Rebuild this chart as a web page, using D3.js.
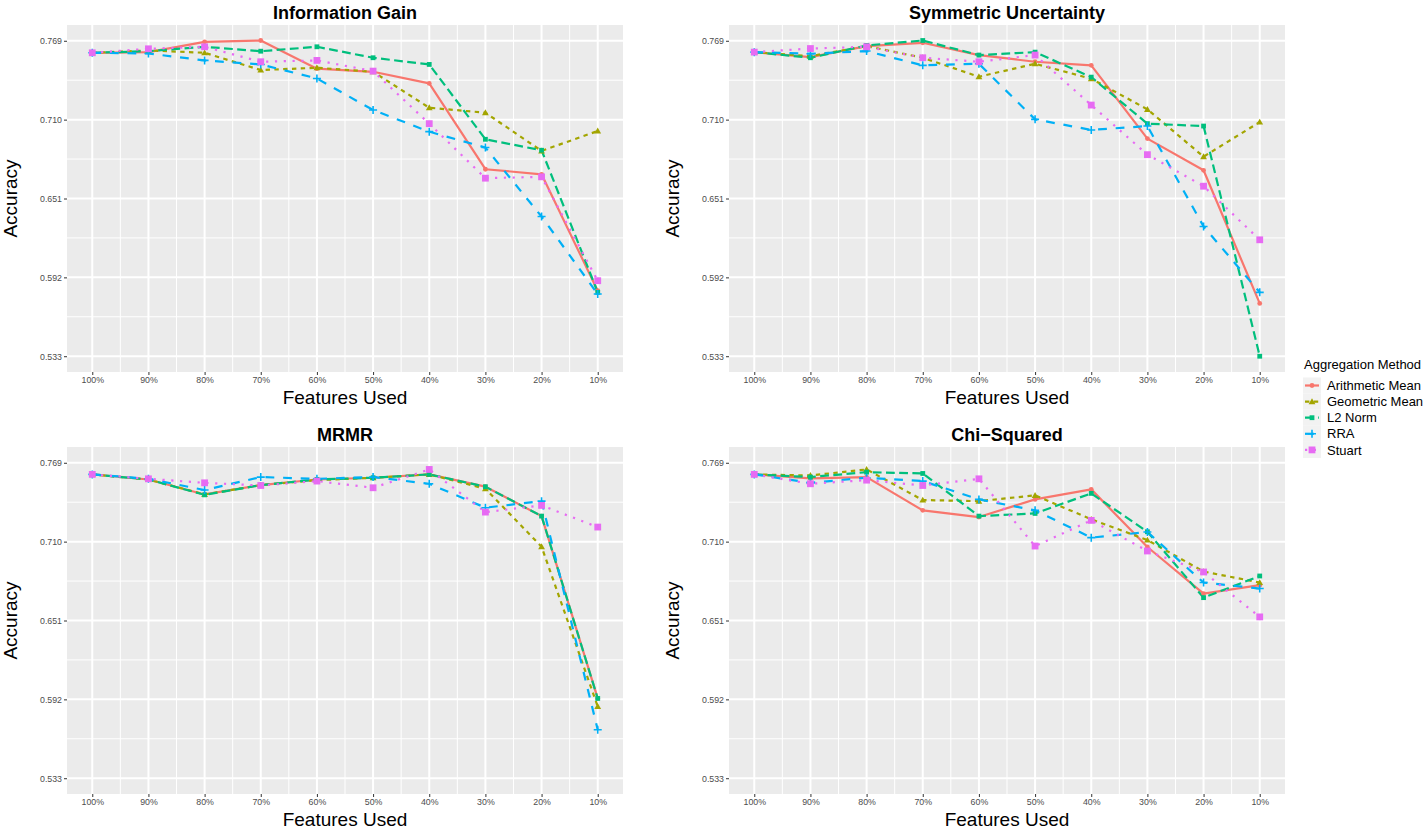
<!DOCTYPE html>
<html><head><meta charset="utf-8">
<script src="https://cdn.jsdelivr.net/npm/d3@7/dist/d3.min.js"></script>
<style>
body{margin:0;background:#fff;}
svg{display:block;font-family:"Liberation Sans",Arial,Helvetica,sans-serif;}
</style>
</head><body>
<svg id="chart" width="1423" height="837"></svg>
<script>
// ---------- data ----------
const featureLabels = ["100%","90%","80%","70%","60%","50%","40%","30%","20%","10%"];
const methods = ["Arithmetic Mean","Geometric Mean","L2 Norm","RRA","Stuart"];
const methodColors = ["#F8766D","#A3A500","#00BF7D","#00B0F6","#E76BF3"];
const yTickValues = [0.533,0.592,0.651,0.710,0.769];
const panelTitles = ["Information Gain","Symmetric Uncertainty","MRMR","Chi\u2212Squared"];

// Information Gain
const igArithmetic = [0.7600,0.7605,0.7682,0.7692,0.7481,0.7458,0.7371,0.6729,0.6691,0.5820];
const igGeometric  = [0.7600,0.7618,0.7600,0.7471,0.7488,0.7458,0.7189,0.7152,0.6866,0.7015];
const igL2         = [0.7600,0.7612,0.7645,0.7612,0.7645,0.7563,0.7513,0.6953,0.6871,0.5808];
const igRRA        = [0.7600,0.7595,0.7543,0.7513,0.7408,0.7172,0.7010,0.6891,0.6375,0.5795];
const igStuart     = [0.7600,0.7630,0.7645,0.7533,0.7543,0.7463,0.7070,0.6662,0.6672,0.5895];

// Symmetric Uncertainty
const suArithmetic = [0.7605,0.7568,0.7650,0.7675,0.7583,0.7533,0.7506,0.6958,0.6721,0.5725];
const suGeometric  = [0.7605,0.7575,0.7650,0.7563,0.7421,0.7518,0.7406,0.7177,0.6823,0.7082];
const suL2         = [0.7605,0.7563,0.7655,0.7692,0.7583,0.7605,0.7418,0.7070,0.7052,0.5330];
const suRRA        = [0.7605,0.7593,0.7613,0.7506,0.7518,0.7102,0.7023,0.7052,0.6301,0.5808];
const suStuart     = [0.7605,0.7632,0.7645,0.7563,0.7533,0.7583,0.7209,0.6838,0.6602,0.6201];

// MRMR
const mrArithmetic = [0.7603,0.7565,0.7453,0.7523,0.7565,0.7578,0.7603,0.7511,0.7291,0.5927];
const mrGeometric  = [0.7603,0.7565,0.7453,0.7523,0.7560,0.7578,0.7603,0.7496,0.7062,0.5867];
const mrL2         = [0.7603,0.7565,0.7450,0.7523,0.7565,0.7578,0.7603,0.7511,0.7291,0.5927];
const mrRRA        = [0.7603,0.7570,0.7486,0.7583,0.7570,0.7583,0.7533,0.7354,0.7403,0.5693];
const mrStuart     = [0.7603,0.7570,0.7540,0.7520,0.7553,0.7503,0.7640,0.7321,0.7371,0.7209];

// Chi-Squared
const csArithmetic = [0.7603,0.7573,0.7583,0.7334,0.7284,0.7416,0.7491,0.7060,0.6711,0.6774];
const csGeometric  = [0.7603,0.7595,0.7640,0.7411,0.7403,0.7446,0.7267,0.7112,0.6876,0.6794];
const csL2         = [0.7603,0.7583,0.7620,0.7610,0.7291,0.7311,0.7461,0.7174,0.6681,0.6843];
const csRRA        = [0.7603,0.7540,0.7578,0.7553,0.7416,0.7334,0.7130,0.7172,0.6794,0.6749];
const csStuart     = [0.7603,0.7533,0.7560,0.7520,0.7570,0.7067,0.7259,0.7030,0.6873,0.6537];

const panelSeries = [
  [igArithmetic, igGeometric, igL2, igRRA, igStuart],
  [suArithmetic, suGeometric, suL2, suRRA, suStuart],
  [mrArithmetic, mrGeometric, mrL2, mrRRA, mrStuart],
  [csArithmetic, csGeometric, csL2, csRRA, csStuart]
];

// ---------- styles ----------
const LW = 2.2;
const dashes = [null, [2*LW,2*LW], [4*LW,2*LW], [4*LW,4*LW], [1*LW,3*LW]];
const shapes = ["circle","triangle","square","plus","bigsquare"];

const svg = d3.select("#chart");
const panelW = 556, panelH = 347;
const panelPos = [[67,25],[729,25],[67,447],[729,447]];

const yMin = d3.min(yTickValues), yMax = d3.max(yTickValues);
const yPad = (yMax - yMin) * 0.05;
const xIdx = d3.range(1, featureLabels.length + 1);

function drawMarker(g, shape, x, y, color) {
  if (shape === "circle") {
    g.append("circle").attr("cx", x).attr("cy", y).attr("r", 2.4).attr("fill", color);
  } else if (shape === "triangle") {
    const s = 3.4;
    g.append("path").attr("d", `M${x},${y - s}L${x + s},${y + s * 0.75}L${x - s},${y + s * 0.75}Z`).attr("fill", color);
  } else if (shape === "square") {
    g.append("rect").attr("x", x - 2.4).attr("y", y - 2.4).attr("width", 4.8).attr("height", 4.8).attr("fill", color);
  } else if (shape === "bigsquare") {
    g.append("rect").attr("x", x - 3.4).attr("y", y - 3.4).attr("width", 6.8).attr("height", 6.8).attr("fill", color);
  } else if (shape === "plus") {
    const s = 4;
    g.append("path").attr("d", `M${x - s},${y}H${x + s}M${x},${y - s}V${y + s}`)
      .attr("stroke", color).attr("stroke-width", 1.6).attr("fill", "none");
  }
}

panelPos.forEach(([px, py], pi) => {
  const g = svg.append("g").attr("transform", `translate(${px},${py})`);
  const x = d3.scaleLinear().domain([1 - 9 * 0.05, 10 + 9 * 0.05]).range([0, panelW]);
  const y = d3.scaleLinear().domain([yMin - yPad, yMax + yPad]).range([panelH, 0]);

  g.append("rect").attr("width", panelW).attr("height", panelH).attr("fill", "#EBEBEB");

  // minor grid
  const xMinor = d3.range(1.5, 10, 1);
  const yMinor = d3.range(0, yTickValues.length - 1).map(i => (yTickValues[i] + yTickValues[i + 1]) / 2);
  g.selectAll(".xmin").data(xMinor).enter().append("line")
    .attr("x1", d => x(d)).attr("x2", d => x(d)).attr("y1", 0).attr("y2", panelH)
    .attr("stroke", "#fff").attr("stroke-width", 1);
  g.selectAll(".ymin").data(yMinor).enter().append("line")
    .attr("y1", d => y(d)).attr("y2", d => y(d)).attr("x1", 0).attr("x2", panelW)
    .attr("stroke", "#fff").attr("stroke-width", 1);
  // major grid
  g.selectAll(".xmaj").data(xIdx).enter().append("line")
    .attr("x1", d => x(d)).attr("x2", d => x(d)).attr("y1", 0).attr("y2", panelH)
    .attr("stroke", "#fff").attr("stroke-width", 2);
  g.selectAll(".ymaj").data(yTickValues).enter().append("line")
    .attr("y1", d => y(d)).attr("y2", d => y(d)).attr("x1", 0).attr("x2", panelW)
    .attr("stroke", "#fff").attr("stroke-width", 2);

  // axes
  const xAxis = d3.axisBottom(x).tickValues(xIdx).tickFormat(d => featureLabels[d - 1]).tickSize(3).tickPadding(2);
  const yAxis = d3.axisLeft(y).tickValues(yTickValues).tickFormat(d3.format(".3f")).tickSize(3).tickPadding(2);
  const gx = g.append("g").attr("transform", `translate(0,${panelH})`).call(xAxis);
  const gy = g.append("g").call(yAxis);
  [gx, gy].forEach(a => {
    a.select(".domain").remove();
    a.selectAll(".tick line").attr("stroke", "#333333").attr("stroke-width", 1);
    a.selectAll(".tick text").attr("fill", "#4D4D4D").style("font-size", "8.8px")
      .style("font-family", '"Liberation Sans",Arial,sans-serif');
  });

  // lines
  const line = d3.line().x((d, i) => x(i + 1)).y(d => y(d));
  panelSeries[pi].forEach((vals, mi) => {
    const p = g.append("path").datum(vals).attr("d", line)
      .attr("fill", "none").attr("stroke", methodColors[mi]).attr("stroke-width", LW)
      .attr("stroke-linejoin", "round");
    if (dashes[mi]) p.attr("stroke-dasharray", dashes[mi].join(","));
  });
  // points
  panelSeries[pi].forEach((vals, mi) => {
    vals.forEach((v, i) => drawMarker(g, shapes[mi], x(i + 1), y(v), methodColors[mi]));
  });

  // titles
  g.append("text").attr("x", panelW / 2).attr("y", -6).attr("text-anchor", "middle")
    .style("font-size", "18px").style("font-weight", "bold").attr("fill", "#000").text(panelTitles[pi]);
  g.append("text").attr("x", panelW / 2).attr("y", panelH + 32).attr("text-anchor", "middle")
    .style("font-size", "19px").attr("fill", "#000").text("Features Used");
  g.append("text").attr("transform", `translate(-50,${panelH / 2}) rotate(-90)`).attr("text-anchor", "middle")
    .style("font-size", "19px").attr("fill", "#000").text("Accuracy");
});

// legend
const lg = svg.append("g").attr("transform", "translate(1304,0)");
lg.append("text").attr("x", 0).attr("y", 369).style("font-size", "13px").attr("fill", "#000").text("Aggregation Method");
methods.forEach((m, i) => {
  const cy = 385.5 + i * 16.1;
  lg.append("rect").attr("x", -1).attr("y", cy - 8).attr("width", 18).attr("height", 16.1).attr("fill", "#F2F2F2");
  const l = lg.append("line").attr("x1", 1).attr("x2", 15).attr("y1", cy).attr("y2", cy)
    .attr("stroke", methodColors[m === undefined ? 0 : i]).attr("stroke-width", LW);
  if (dashes[i]) l.attr("stroke-dasharray", dashes[i].join(","));
  drawMarker(lg, shapes[i], 8, cy, methodColors[i]);
  lg.append("text").attr("x", 23).attr("y", cy + 4.6).style("font-size", "13px").attr("fill", "#000").text(m);
});
</script>
</body></html>
